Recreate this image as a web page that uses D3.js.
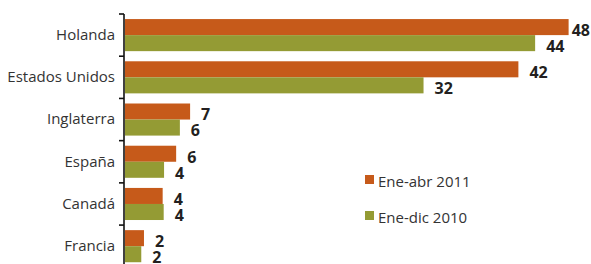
<!DOCTYPE html>
<html>
<head>
<meta charset="utf-8">
<script src="https://cdn.jsdelivr.net/npm/d3@7"></script>
<style>
  body { margin: 0; background: #fff; }
  svg { display: block; }
</style>
</head>
<body>
<svg id="chart" width="591" height="264"></svg>
<script>
// data
const categories = ["Holanda", "Estados Unidos", "Inglaterra", "España", "Canadá", "Francia"];
const series = ["Ene-abr 2011", "Ene-dic 2010"];
const values2011 = [47.7, 42.3, 7.0, 5.5, 4.05, 2.04];
const values2010 = [44.1, 32.1, 5.9, 4.2, 4.16, 1.75];
const labels2011 = ["48", "42", "7", "6", "4", "2"];
const labels2010 = ["44", "32", "6", "4", "4", "2"];
const colors = ["#c65a1a", "#949b34"];

const svg = d3.select("#chart");
const width = +svg.attr("width");
const height = +svg.attr("height");

const axisX = 124;
const x = d3.scaleLinear()
    .domain([0, 48])
    .range([axisX + 1, axisX + 1 + 48 * 9.3]);

const y0 = d3.scaleBand()
    .domain(categories)
    .range([14, 267.3])
    .paddingInner(0.24)
    .paddingOuter(0.12);

const y1 = d3.scaleBand()
    .domain(series)
    .range([0, y0.bandwidth()]);

const rows = categories.map((c, i) => ({
  cat: c,
  vals: [
    { s: series[0], v: values2011[i], lab: labels2011[i] },
    { s: series[1], v: values2010[i], lab: labels2010[i] }
  ]
}));

// bars
const groups = svg.append("g")
  .selectAll("g")
  .data(rows)
  .join("g")
  .attr("transform", d => `translate(0,${y0(d.cat)})`);

groups.selectAll("rect")
  .data(d => d.vals)
  .join("rect")
  .attr("x", x(0))
  .attr("y", d => y1(d.s))
  .attr("width", d => x(d.v) - x(0))
  .attr("height", y1.bandwidth())
  .attr("fill", (d, i) => colors[i]);

// value labels
groups.selectAll("text")
  .data(d => d.vals)
  .join("text")
  .attr("y", d => y1(d.s) + y1.bandwidth() / 2 + 8.8)
  .attr("font-family", "'Open Sans', sans-serif")
  .attr("font-weight", "bold")
  .attr("font-size", 16)
  .attr("fill", "#231f20")
  .text(d => d.lab)
  .attr("x", function(d) {
    const w = this.getComputedTextLength();
    return Math.min(x(d.v) + 11, width - 1 - w);
  });

// category axis
const yAxis = d3.axisLeft(y0).tickSize(0).tickPadding(9);
const ax = svg.append("g")
  .attr("transform", `translate(${axisX},0)`)
  .call(yAxis);
ax.select(".domain").remove();
ax.selectAll("text")
  .attr("font-family", "'Open Sans', sans-serif")
  .attr("font-size", 15)
  .attr("fill", "#333");

// axis line + tick marks between bands
const step = y0.step();
const bounds = categories.map(c => y0(c) - y0.paddingOuter() * step);
svg.append("line")
  .attr("x1", axisX).attr("x2", axisX)
  .attr("y1", bounds[0]).attr("y2", height)
  .attr("stroke", "#111")
  .attr("stroke-width", 1.6);
svg.append("g")
  .selectAll("line")
  .data(bounds)
  .join("line")
  .attr("x1", axisX - 5).attr("x2", axisX)
  .attr("y1", d => d).attr("y2", d => d)
  .attr("stroke", "#111")
  .attr("stroke-width", 1.6);

// legend
const legend = svg.append("g")
  .selectAll("g")
  .data(series)
  .join("g")
  .attr("transform", (d, i) => `translate(365,${175 + i * 36})`);
legend.append("rect")
  .attr("width", 9).attr("height", 9)
  .attr("fill", (d, i) => colors[i]);
legend.append("text")
  .attr("x", 13).attr("y", 12)
  .attr("font-family", "'Open Sans', sans-serif")
  .attr("font-size", 15)
  .attr("fill", "#333")
  .text(d => d);
</script>
</body>
</html>
